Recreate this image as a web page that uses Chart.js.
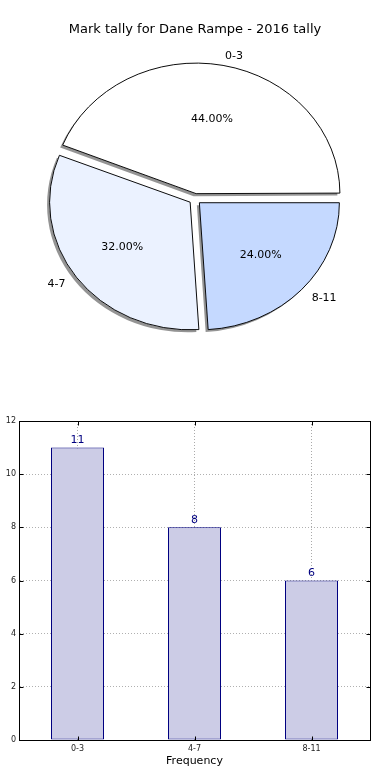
<!DOCTYPE html>
<html>
<head>
<meta charset="utf-8">
<script src="https://cdn.jsdelivr.net/npm/chart.js@4.4.1/dist/chart.umd.min.js"></script>
<style>
  html, body { margin: 0; padding: 0; background: #fff; }
  body { width: 390px; height: 780px; overflow: hidden; }
  #pieBox, #barBox { width: 390px; height: 390px; overflow: hidden; position: relative; }
  #bar { position: absolute; left: -15px; top: 0; }
</style>
</head>
<body>
<div id="pieBox"><canvas id="pie" width="390" height="390"></canvas></div>
<div id="barBox"><canvas id="bar" width="405" height="390"></canvas></div>
<script>
"use strict";
const categories = ['0-3', '4-7', '8-11'];
const counts = [11, 8, 6];
const pieColors = ['#ffffff', '#ebf2ff', '#c5d9ff'];
const yTicks = [0, 2, 4, 6, 8, 10, 12];

const titleText = 'Mark tally for Dane Rampe - 2016 tally';
const xTitle = 'Frequency';
const yTitle = 'No. of students';

Chart.defaults.font.family = "'DejaVu Sans', sans-serif";
Chart.defaults.color = '#000';

const total = counts.reduce((a, b) => a + b, 0);
// chart.js goes clockwise, matplotlib counter-clockwise: feed it reversed
const order = [2, 1, 0];
const pieLabels = order.map(i => categories[i]);
const pieValues = order.map(i => counts[i]);
const pieFill = order.map(i => pieColors[i]);

const SQUASH = 0.908;
const OFFSET = 24; // arc moves offset/4 px

const squashPlugin = {
    id: 'squash',
    beforeDatasetsDraw(chart) {
        const meta = chart.getDatasetMeta(0);
        const arc0 = meta.data[0];
        const ctx = chart.ctx;
        ctx.save();
        ctx.translate(arc0.x, arc0.y);
        ctx.scale(1, SQUASH);
        ctx.translate(-arc0.x, -arc0.y);
        // shadows first, fill only, so the border does not get a copy
        ctx.save();
        ctx.shadowColor = 'rgba(0,0,0,0.42)';
        ctx.shadowOffsetX = -2.5;
        ctx.shadowOffsetY = 2.5;
        ctx.shadowBlur = 0;
        meta.data.forEach(arc => {
            const saved = arc.options;
            arc.options = Object.assign({}, saved, { borderWidth: 0 });
            arc.draw(ctx);
            arc.options = saved;
        });
        ctx.restore();
    },
    afterDatasetsDraw(chart) {
        const ctx = chart.ctx;
        ctx.restore();
        const meta = chart.getDatasetMeta(0);
        ctx.save();
        ctx.font = "11px 'DejaVu Sans'";
        ctx.fillStyle = '#000';
        ctx.textBaseline = 'middle';
        meta.data.forEach((arc, i) => {
            const p = arc.getProps(['x', 'y', 'startAngle', 'endAngle', 'outerRadius'], true);
            const mid = (p.startAngle + p.endAngle) / 2;
            const c = Math.cos(mid), s = Math.sin(mid);
            const ox = p.x + c * OFFSET / 4;
            const oy = p.y + s * OFFSET / 4 * SQUASH;
            const r = p.outerRadius;
            const pct = (pieValues[i] / total * 100).toFixed(2) + '%';
            ctx.textAlign = 'center';
            ctx.fillText(pct, ox + c * r * 0.6, oy + s * r * 0.6 * SQUASH);
            ctx.textAlign = c >= 0 ? 'left' : 'right';
            ctx.fillText(pieLabels[i], ox + c * r * 1.1, oy + s * r * 1.1 * SQUASH);
        });
        ctx.restore();
    }
};

new Chart(document.getElementById('pie'), {
    type: 'pie',
    data: {
        labels: pieLabels,
        datasets: [{
            data: pieValues,
            backgroundColor: pieFill,
            borderColor: '#000',
            borderWidth: 1,
            offset: OFFSET
        }]
    },
    options: {
        responsive: false,
        animation: false,
        events: [],
        rotation: 90,
        radius: 140,
        layout: { padding: { top: 0, bottom: 29.6, left: 0, right: 0 } },
        plugins: {
            legend: { display: false },
            tooltip: { enabled: false },
            title: {
                display: true,
                text: titleText,
                color: '#000',
                font: { size: 13, weight: 'normal' },
                padding: { top: 22, bottom: 0 }
            }
        }
    },
    plugins: [squashPlugin]
});

const barExtras = {
    id: 'barExtras',
    afterDatasetsDraw(chart) {
        const ctx = chart.ctx;
        const meta = chart.getDatasetMeta(0);
        ctx.save();
        ctx.font = "11px 'DejaVu Sans'";
        ctx.fillStyle = '#000080';
        ctx.textAlign = 'center';
        ctx.textBaseline = 'bottom';
        meta.data.forEach((bar, i) => {
            ctx.fillText(String(counts[i]), bar.x, bar.y - 2);
        });
        ctx.restore();
    },
    afterDraw(chart) {
        const a = chart.chartArea;
        const ctx = chart.ctx;
        const yScale = chart.scales.y;
        ctx.save();
        ctx.strokeStyle = '#000';
        ctx.lineWidth = 1;
        const L = Math.round(a.left) + 0.5, T = Math.round(a.top) + 0.5;
        const R = L + Math.round(a.right - a.left), B = T + Math.round(a.bottom - a.top);
        ctx.strokeRect(L, T, R - L, B - T);
        // small inward ticks like matplotlib classic
        ctx.beginPath();
        yTicks.forEach(v => {
            const y = Math.round(yScale.getPixelForValue(v)) + 0.5;
            ctx.moveTo(L, y); ctx.lineTo(L + 4, y);
            ctx.moveTo(R, y); ctx.lineTo(R - 4, y);
        });
        chart.getDatasetMeta(0).data.forEach(bar => {
            const x = Math.round(bar.x) + 0.5;
            ctx.moveTo(x, B); ctx.lineTo(x, B - 4);
            ctx.moveTo(x, T); ctx.lineTo(x, T + 4);
        });
        ctx.stroke();
        ctx.restore();
    }
};

new Chart(document.getElementById('bar'), {
    type: 'bar',
    data: {
        labels: categories,
        datasets: [{
            data: counts,
            backgroundColor: '#ccccE6',
            borderColor: '#000080',
            borderWidth: 1,
            borderSkipped: false,
            categoryPercentage: 1,
            barPercentage: 53 / 117
        }]
    },
    options: {
        responsive: false,
        animation: false,
        events: [],
        layout: { padding: { top: 31, right: 20, bottom: 0, left: 0 } },
        plugins: { legend: { display: false }, tooltip: { enabled: false } },
        scales: {
            x: {
                z: 1,
                offset: true,
                grid: { offset: false, color: '#aaa', drawTicks: false },
                border: { color: '#000', dash: [1, 2] },
                ticks: { font: { size: 8 }, padding: 4, color: '#222' },
                title: { display: true, text: xTitle, font: { size: 11 }, padding: { top: 0, bottom: 12 } },
                afterFit(scale) { scale.height = 40; }
            },
            y: {
                min: 0,
                max: 12,
                afterBuildTicks(scale) { scale.ticks = yTicks.map(v => ({ value: v })); },
                grid: { color: '#b0b0b0', drawTicks: false },
                border: { color: '#000', dash: [1, 2] },
                ticks: { font: { size: 8 }, padding: 3, color: '#222' },
                title: { display: true, text: yTitle, font: { size: 11 }, padding: { top: 6, bottom: 0 } },
                afterFit(scale) { scale.width = 34; }
            }
        }
    },
    plugins: [barExtras]
});
</script>
</body>
</html>
